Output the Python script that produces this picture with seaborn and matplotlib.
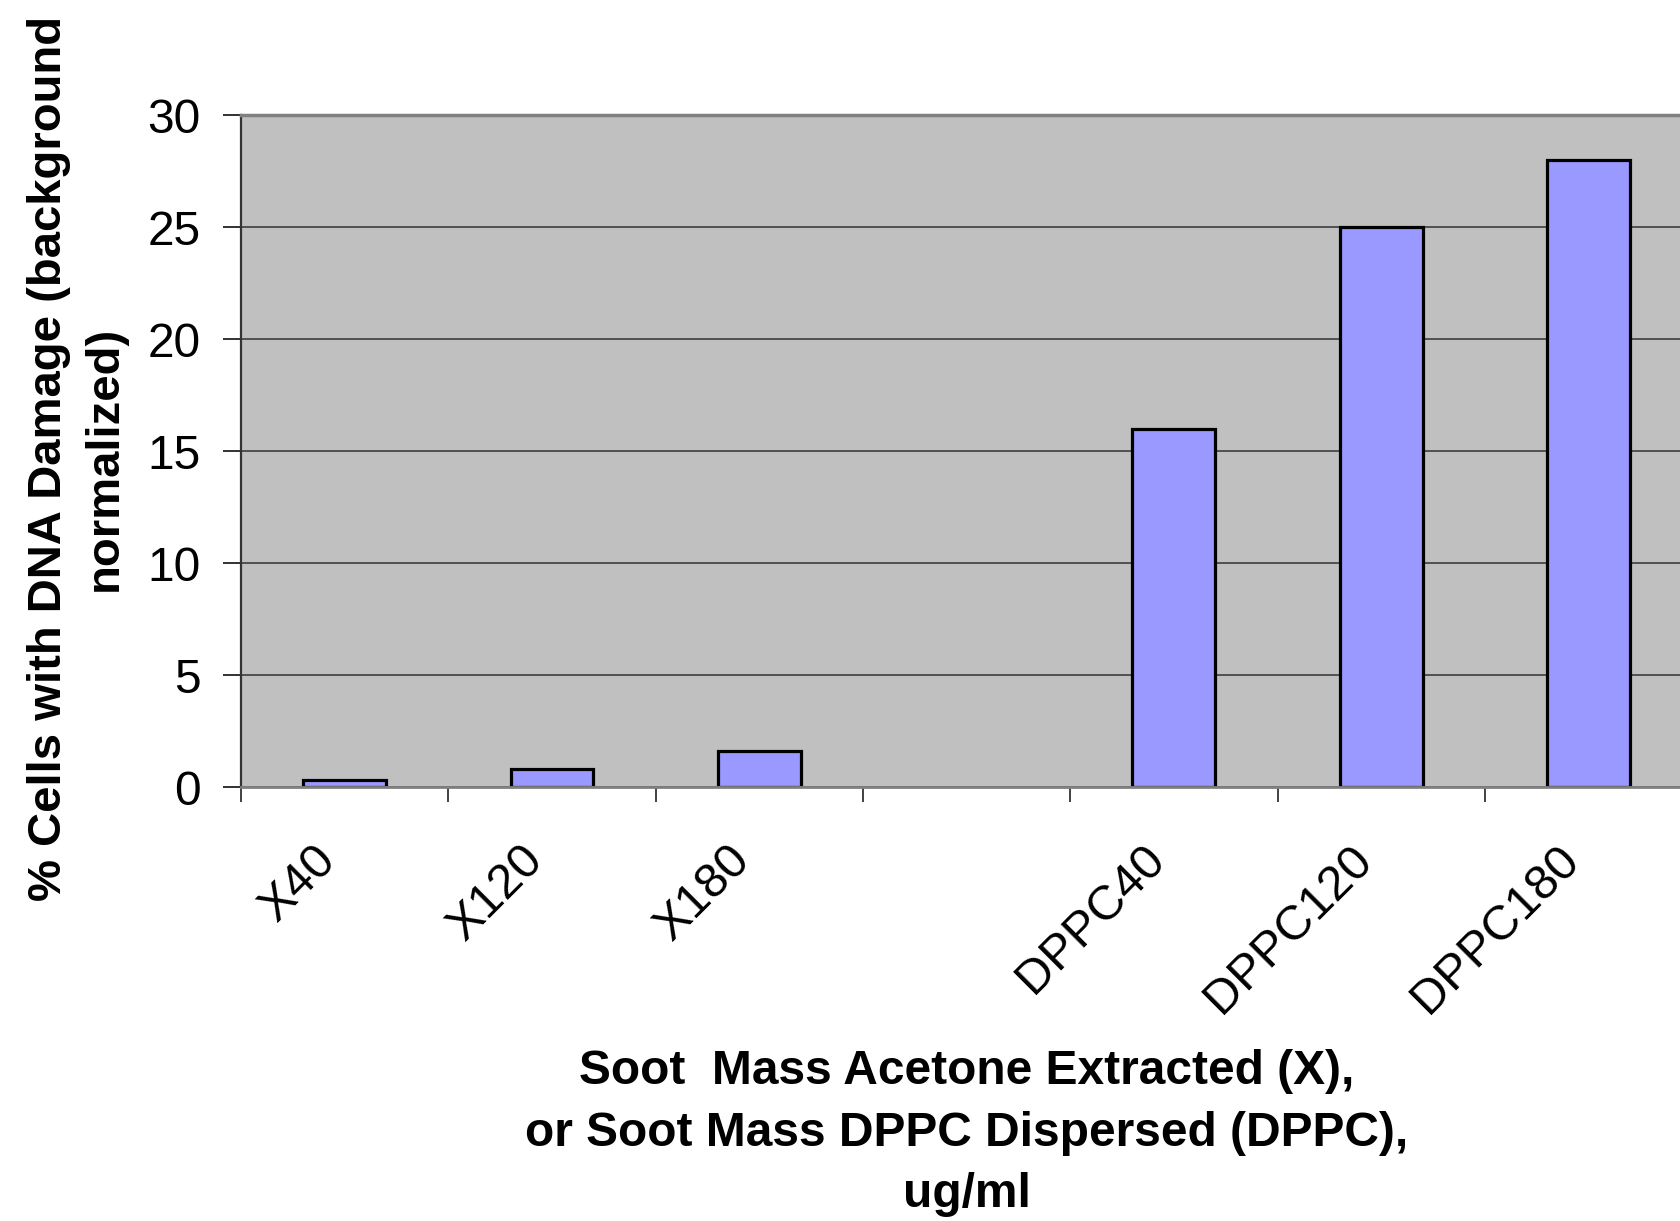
import matplotlib
matplotlib.use("Agg")
import matplotlib.pyplot as plt
from matplotlib.ticker import FixedLocator
import pandas as pd
import seaborn as sns

# categories in plotting order (the blank slot separates the two groups)
order = ["X40", "X120", "X180", " ", "DPPC40", "DPPC120", "DPPC180"]
labels = ["X40", "X120", "X180", "", "DPPC40", "DPPC120", "DPPC180"]
samples = ["X40", "X120", "X180", "DPPC40", "DPPC120", "DPPC180"]
damage = [0.3, 0.8, 1.6, 16.0, 25.0, 28.0]
yticks = [0, 5, 10, 15, 20, 25, 30]

df = pd.DataFrame({"sample": samples, "damage": damage})

sns.set_theme(style="ticks")
plt.rcParams["font.family"] = ["Liberation Sans", "DejaVu Sans"]
plt.rcParams["text.color"] = "black"
plt.rcParams["axes.labelcolor"] = "black"
plt.rcParams["xtick.labelcolor"] = "black"
plt.rcParams["ytick.labelcolor"] = "black"

fig = plt.figure(figsize=(16.8, 12.21), dpi=100)
ax = fig.add_axes([0.1435, 0.3554, 0.8637, 0.5504])
ax.set_facecolor("#C0C0C0")

sns.barplot(data=df, x="sample", y="damage", order=order, color="#9999FF",
            saturation=1, width=0.4, edgecolor="black", linewidth=2.3, ax=ax)

ax.set_xlim(-0.5, 6.5)
ax.set_ylim(0, 30)
ax.set_yticks(yticks)
ax.set_yticklabels([str(v) for v in yticks])
ax.yaxis.grid(True, color="#333333", linewidth=1.1)
ax.set_axisbelow(True)

# labels at category centres, ticks on the boundaries
ax.set_xticks(range(len(order)))
ax.set_xticklabels(labels, rotation=45, ha="right", va="top")
ax.xaxis.set_minor_locator(FixedLocator([i - 0.5 for i in range(len(order) + 1)]))
ax.tick_params(axis="x", which="major", length=0, pad=36, labelsize=35)
ax.tick_params(axis="x", which="minor", length=11, width=1.3, color="#333333")
ax.tick_params(axis="y", length=13, width=1.3, color="#222222", pad=16, labelsize=34.5)

for s in ["top", "bottom"]:
    ax.spines[s].set_color("#808080")
ax.spines["top"].set_linewidth(2.5)
ax.spines["bottom"].set_linewidth(2)
ax.spines["left"].set_color("#333333")
ax.spines["left"].set_linewidth(1.6)
ax.spines["right"].set_visible(False)

ax.set_xlabel("Soot  Mass Acetone Extracted (X),\nor Soot Mass DPPC Dispersed (DPPC),\nug/ml",
              fontsize=34.5, fontweight="bold", linespacing=1.47)
ax.xaxis.set_label_coords(0.5, -0.39)
ax.set_ylabel("% Cells with DNA Damage (background\nnormalized)", fontsize=34,
              fontweight="bold", linespacing=1.35)
ax.yaxis.set_label_coords(-0.079, 0.489)

fig.savefig("out.png", dpi=100)
